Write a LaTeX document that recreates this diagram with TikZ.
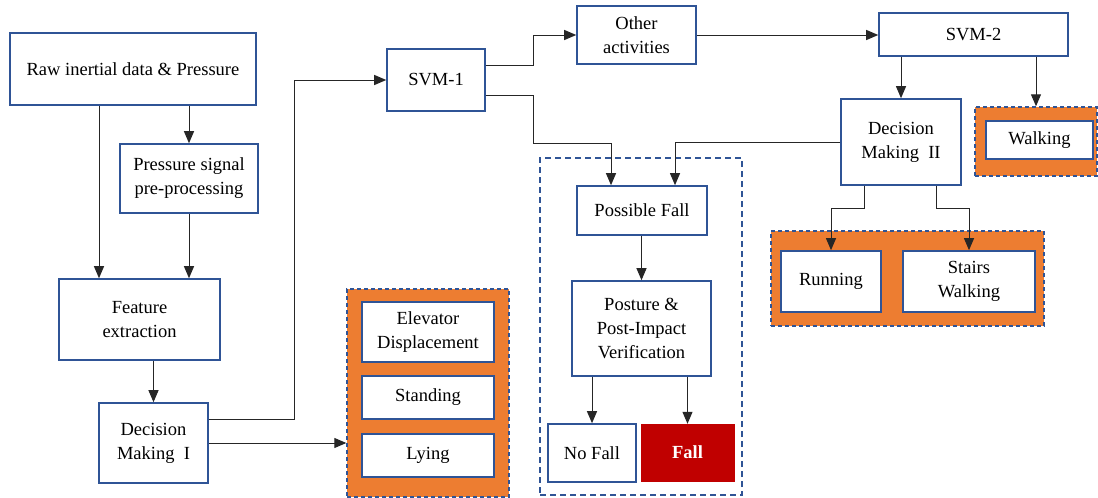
\documentclass[tikz,border=0pt]{standalone}
\usepackage{fontspec}
\setmainfont{Liberation Serif}
\usetikzlibrary{arrows.meta}
\definecolor{boxblue}{HTML}{2F5496}
\definecolor{grporange}{HTML}{ED7D31}
\definecolor{falred}{HTML}{C00000}
\tikzset{
  box/.style={draw=boxblue, line width=1.6pt, fill=white, align=center, inner sep=0pt,
    font=\fontsize{18.5}{24}\selectfont},
  grp/.style={draw=boxblue, line width=1.4pt, dash pattern=on 4pt off 3pt, fill=grporange, inner sep=0pt},
  dgrp/.style={draw=boxblue, line width=1.4pt, dash pattern=on 6pt off 4pt, inner sep=0pt},
  redbox/.style={fill=falred, draw=falred, text=white, font=\fontsize{18.5}{24}\selectfont\bfseries, inner sep=0pt},
  arr/.style={draw=black!85, line width=1pt, -{Triangle[length=12pt,width=10pt]}},
}
\begin{document}
\begin{tikzpicture}[x=1pt,y=-1pt]
\useasboundingbox (0,0) rectangle (1098,498);
% groups
\node[grp, minimum width=162pt, minimum height=208pt] (grp1) at (428,393) {};
\node[grp, minimum width=122pt, minimum height=69pt] (walkgrp) at (1036,141.5) {};
\node[grp, minimum width=273pt, minimum height=95pt] (grp2) at (907.5,278.5) {};
\node[dgrp, minimum width=202pt, minimum height=337pt] (fallgrp) at (641,326.5) {};
% boxes
\node[box, minimum width=246pt, minimum height=72pt] (raw) at (133,69) {Raw inertial data \& Pressure};
\node[box, minimum width=138pt, minimum height=69pt] (pre) at (189,178.5) {Pressure signal\\pre-processing};
\node[box, minimum width=161pt, minimum height=81pt] (feat) at (139.5,319.5) {Feature\\extraction};
\node[box, minimum width=109pt, minimum height=80pt] (dm1) at (153.5,443) {Decision\\Making\ \ I};
\node[box, minimum width=98pt, minimum height=62pt] (svm1) at (436,80) {SVM-1};
\node[box, minimum width=119pt, minimum height=58pt] (other) at (636.5,35) {Other\\activities};
\node[box, minimum width=189pt, minimum height=43pt] (svm2) at (973.5,34.5) {SVM-2};
\node[box, minimum width=120pt, minimum height=86pt] (dm2) at (901,142) {Decision\\Making\ \ II};
\node[box, minimum width=107pt, minimum height=38pt] (walk) at (1039.5,140) {Walking};
\node[box, minimum width=100pt, minimum height=61pt] (run) at (831,281.5) {Running};
\node[box, minimum width=132pt, minimum height=61pt] (stairs) at (969,281.5) {Stairs\\Walking};
\node[box, minimum width=130pt, minimum height=49pt] (pf) at (642,210.5) {Possible Fall};
\node[box, minimum width=139pt, minimum height=95pt] (post) at (641.5,328.5) {Posture \&\\Post-Impact\\Verification};
\node[box, minimum width=88pt, minimum height=58pt] (nofall) at (592,453) {No Fall};
\node[redbox, minimum width=93pt, minimum height=57pt] (fall) at (687.5,452.5) {Fall};
\node[box, minimum width=132pt, minimum height=60pt] (elev) at (428,332) {Elevator\\Displacement};
\node[box, minimum width=132pt, minimum height=43pt] (stand) at (428,397.5) {Standing};
\node[box, minimum width=132pt, minimum height=43pt] (lying) at (428,455.5) {Lying};
% connectors
\draw[arr] (raw.south -| pre.north) -- (pre.north);
\draw[arr] ([xshift=-34pt]raw.south) -- ([xshift=-40.5pt]feat.north);
\draw[arr] (pre.south) -- (pre.south |- feat.north);
\draw[arr] (dm1.north |- feat.south) -- (dm1.north);
\draw[arr] ([yshift=24pt]dm1.east) -- ++(86,0) |- (svm1.west);
\draw[arr] (dm1.east) -- (dm1.east -| grp1.west);
\draw[arr] ([yshift=15pt]svm1.east) -- ++(48,0) |- (other.west);
\draw[arr] ([yshift=-15pt]svm1.east) -- ++(48,0) -- ++(0,48) -| ([xshift=-31pt]pf.north);
\draw[arr] (dm2.west) -| ([xshift=33pt]pf.north);
\draw[arr] (other.east) -- (other.east -| svm2.west);
\draw[arr] (dm2.north |- svm2.south) -- (dm2.north);
\draw[arr] (walkgrp.north |- svm2.south) -- (walkgrp.north);
\draw[arr] ([xshift=-37pt]dm2.south) -- ++(0,23) -| (run.north);
\draw[arr] ([xshift=35pt]dm2.south) -- ++(0,23) -| (stairs.north);
\draw[arr] (post.north |- pf.south) -- (post.north);
\draw[arr] (nofall.north |- post.south) -- (nofall.north);
\draw[arr] (fall.north |- post.south) -- (fall.north);
\end{tikzpicture}
\end{document}
